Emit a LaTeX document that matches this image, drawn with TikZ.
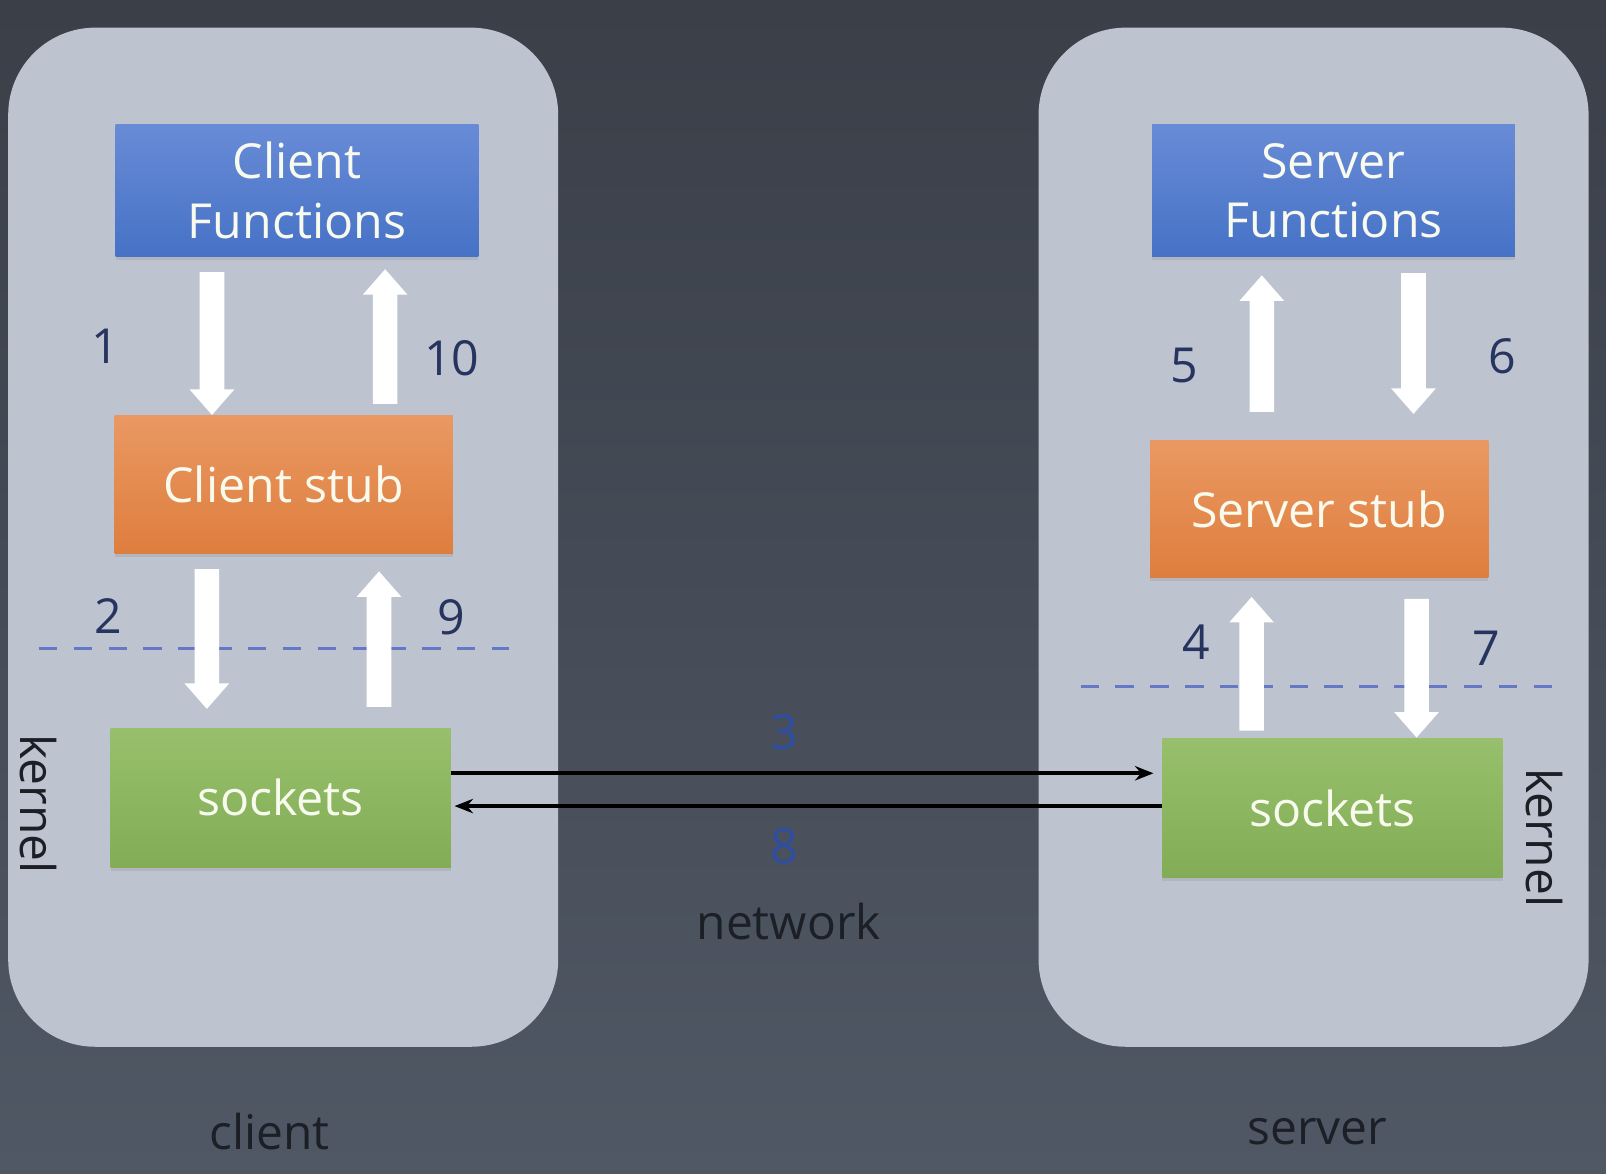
\documentclass[tikz,border=0pt]{standalone}
\usepackage{fontspec}
\setmainfont{Open Sans}
\usetikzlibrary{arrows.meta, shadows}
\definecolor{bgtop}{RGB}{58,63,72}
\definecolor{bgbot}{RGB}{80,88,101}
\definecolor{panel}{RGB}{189,195,207}
\definecolor{bluetop}{RGB}{104,139,214}
\definecolor{bluebot}{RGB}{70,114,198}
\definecolor{orangetop}{RGB}{234,152,98}
\definecolor{orangebot}{RGB}{222,126,62}
\definecolor{greentop}{RGB}{152,192,108}
\definecolor{greenbot}{RGB}{130,172,86}
\definecolor{boxtext}{RGB}{248,250,238}
\definecolor{stepnum}{RGB}{40,52,96}
\definecolor{netnum}{RGB}{46,78,162}
\definecolor{dashblue}{RGB}{100,120,198}
\definecolor{darktext}{RGB}{28,31,38}

\begin{document}
\begin{tikzpicture}[x = 0.01cm, y = -0.01cm,
	box/.style = {text = boxtext, font = \fontsize{13.4}{16.5}\selectfont, align = center, drop shadow = {opacity = 0.2, shadow xshift = 0cm, shadow yshift = -0.035cm}},
	funcbox/.style = {box, top color = bluetop, bottom color = bluebot, minimum width = 3.54cm, minimum height = 1.28cm},
	stubbox/.style = {box, top color = orangetop, bottom color = orangebot, minimum width = 3.3cm, minimum height = 1.34cm},
	sockbox/.style = {box, top color = greentop, bottom color = greenbot, minimum width = 3.32cm, minimum height = 1.36cm},
	flow/.style = {white, line width = 0.24cm, -{Triangle[width = 0.42cm, length = 0.25cm]}},
	net/.style = {black, line width = 0.035cm, -{Stealth[length = 0.18cm, width = 0.14cm]}},
	steplabel/.style = {text = stepnum, font = \fontsize{13.4}{16}\selectfont},
	caption/.style = {text = darktext, font = \fontsize{13.3}{16}\selectfont}]
	 \useasboundingbox (0, 0) rectangle (1568, 1146);
	 \shade[top color = bgtop, bottom color = bgbot] (0, 0) rectangle (1568, 1146);
	 
	 \fill[panel, rounded corners = 0.85cm] (8, 27) rectangle (545, 1022);
	 \fill[panel, rounded corners = 0.85cm] (1014, 27) rectangle (1551, 1022);
	 
	 \node[funcbox] (cf) at (290, 186) {Client\\Functions};
	 \node[stubbox] (cs) at (277, 473) {Client stub};
	 \node[sockbox] (ck) at (274, 779) {sockets};
	 \node[funcbox] (sf) at (1302, 186) {Server\\Functions};
	 \node[stubbox] (ss) at (1288, 497) {Server stub};
	 \node[sockbox] (sk) at (1301, 789) {sockets};
	 
	 \draw[dashblue, line width = 0.03cm, dash pattern = on 0.18cm off 0.16cm] (38, 633) -- (497, 633);
	 \draw[dashblue, line width = 0.03cm, dash pattern = on 0.18cm off 0.16cm] (1055, 670) -- (1515, 670);
	 
	 \draw[flow] ([xshift = -0.83cm, yshift = -0.15cm]cf.south) -- ([xshift = -0.70cm]cs.north);
	 \draw[flow] ([xshift = 0.99cm, yshift = 0.11cm]cs.north) -- ([xshift = 0.86cm, yshift = -0.12cm]cf.south);
	 \draw[flow] ([xshift = -0.75cm, yshift = -0.15cm]cs.south) -- ([xshift = -0.72cm, yshift = 0.18cm]ck.north);
	 \draw[flow] ([xshift = 0.96cm, yshift = 0.20cm]ck.north) -- ([xshift = 0.93cm, yshift = -0.17cm]cs.south);
	 \draw[flow] ([xshift = -0.56cm, yshift = 0.27cm]ss.north) -- ([xshift = -0.70cm, yshift = -0.18cm]sf.south);
	 \draw[flow] ([xshift = 0.78cm, yshift = -0.16cm]sf.south) -- ([xshift = 0.92cm, yshift = 0.25cm]ss.north);
	 \draw[flow] ([xshift = -0.79cm, yshift = 0.07cm]sk.north) -- ([xshift = -0.66cm, yshift = -0.18cm]ss.south);
	 \draw[flow] ([xshift = 0.95cm, yshift = -0.20cm]ss.south) -- ([xshift = 0.82cm]sk.north);
	 
	 \coordinate (go) at ([yshift = 0.24cm]ck.east);
	 \coordinate (back) at ([yshift = -0.08cm]ck.east);
	 \draw[net, shorten > = 0.08cm] (go) -- (go -| sk.west);
	 \draw[net, shorten > = 0.03cm] (back -| sk.west) -- (back);
	 
	 \foreach \n/\x/\y in {1/103/338, 10/441/350, 2/106/601, 9/441/603, 5/1156/357, 6/1467/348, 4/1168/627, 7/1451/633}
	 \node[steplabel] (n\n) at (\x, \y) {\n};
	 \foreach \n/\y in {3/715, 8/826}
	 \node[steplabel, text = netnum] (n\n) at (766, \y) {\n};
	 
	 \node[caption] (network) at (770, 900) {network};
	 \node[caption] (client) at (263, 1105) {client};
	 \node[caption] (server) at (1286, 1105) {server};
	 \node[caption, rotate = -90] (kc) at (38, 785) {kernel};
	 \node[caption, rotate = -90] (ks) at (1508, 818) {kernel};
	 \end{tikzpicture}
\end{document}
